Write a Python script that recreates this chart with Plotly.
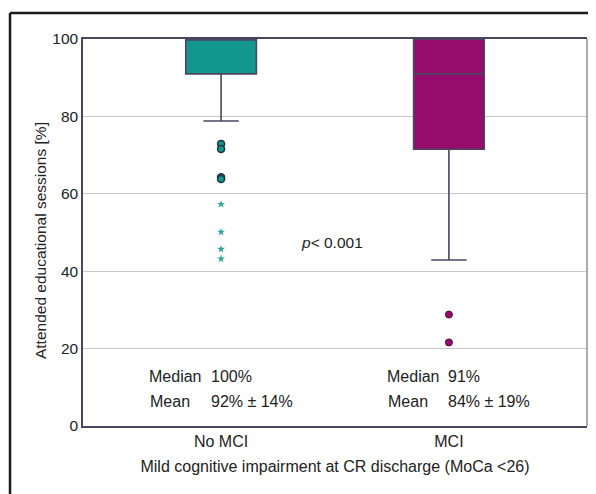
import plotly.graph_objects as go

# ---- data ----
categories = ["No MCI", "MCI"]
cat_pos = [0, 1]
q1_vals = [91.0, 71.5]
median_vals = [100.0, 91.0]
q3_vals = [100.0, 100.0]
lower_whisker = [78.8, 42.9]
upper_whisker = [100.0, 100.0]
nomci_circle_outliers = [72.9, 71.6, 64.3, 63.8]
nomci_star_outliers = [57.3, 50.1, 45.7, 43.2]
mci_circle_outliers = [28.8, 21.6]
median_labels = ["100%", "91%"]
mean_labels = ["92% ± 14%", "84% ± 19%"]
y_ticks = [0, 20, 40, 60, 80, 100]

teal = "#11978e"
purple = "#950c6d"
line_col = "#4a4560"
FONT = "Liberation Sans, Arial, Helvetica, sans-serif"

fig = go.Figure()

for i, col in enumerate([teal, purple]):
    fig.add_trace(go.Box(
        x=[cat_pos[i]], q1=[q1_vals[i]], median=[median_vals[i]], q3=[q3_vals[i]],
        lowerfence=[lower_whisker[i]], upperfence=[upper_whisker[i]],
        fillcolor=col, line=dict(color=line_col, width=1.6),
        width=0.31, whiskerwidth=0.5, boxpoints=False, showlegend=False,
        hoverinfo="skip",
    ))

fig.add_trace(go.Scatter(
    x=[cat_pos[0]] * len(nomci_circle_outliers), y=nomci_circle_outliers, mode="markers",
    marker=dict(symbol="circle", size=7, color=teal, line=dict(color="#1d3442", width=1.5)),
    showlegend=False))
fig.add_trace(go.Scatter(
    x=[cat_pos[0]] * len(nomci_star_outliers), y=nomci_star_outliers, mode="markers",
    marker=dict(symbol="star", size=6, color="#2aa9a0", line=dict(width=0)),
    showlegend=False))
fig.add_trace(go.Scatter(
    x=[cat_pos[1]] * len(mci_circle_outliers), y=mci_circle_outliers, mode="markers",
    marker=dict(symbol="circle", size=7, color=purple, line=dict(color="#4a0a3a", width=1)),
    showlegend=False))

annotations = []
label_x = [(0.127, 0.250), (0.599, 0.720)]
for i in range(2):
    lx, vx = label_x[i]
    annotations += [
        dict(x=lx, y=0.127, text="Median"),
        dict(x=vx, y=0.127, text=median_labels[i]),
        dict(x=lx + 0.002, y=0.064, text="Mean"),
        dict(x=vx, y=0.064, text=mean_labels[i]),
    ]
for a in annotations:
    a.update(xref="paper", yref="paper", showarrow=False, xanchor="left", yanchor="middle",
             font=dict(size=16))
annotations.append(dict(x=0.494, y=0.475, xref="paper", yref="paper", xanchor="center",
                        yanchor="middle", text="<i>p</i>< 0.001", showarrow=False,
                        font=dict(size=15.5)))
# y axis title (slightly below plot centre, as in the reference)
annotations.append(dict(x=-0.0853, y=0.478, xref="paper", yref="paper", xanchor="center",
                        yanchor="middle", textangle=-90, showarrow=False,
                        text="Attended educational sessions [%]", font=dict(size=15.5)))

shapes = [
    # outer frame (top & left)
    dict(type="line", xref="paper", yref="paper", x0=-0.1448, x1=1.02, y0=1.067, y1=1.067,
         line=dict(color="#1a1a1a", width=2.5)),
    dict(type="line", xref="paper", yref="paper", x0=-0.1448, x1=-0.1448, y0=1.067, y1=-0.2,
         line=dict(color="#1a1a1a", width=2.5)),
    # right border of plot (lighter)
    dict(type="line", xref="paper", yref="paper", x0=1, x1=1, y0=0, y1=1,
         line=dict(color="#8f8c9e", width=1.5)),
]

fig.update_layout(
    width=588, height=486,
    margin=dict(l=75, r=9, t=31, b=68),
    paper_bgcolor="white", plot_bgcolor="white",
    font=dict(family=FONT, size=15.5, color="#222222"),
    annotations=annotations, shapes=shapes,
    xaxis=dict(
        range=[-0.606, 1.606], tickvals=cat_pos, ticktext=categories,
        showline=True, linecolor=line_col, linewidth=1.5, mirror=True,
        showgrid=False, zeroline=False, ticks="",
        tickfont=dict(size=16, color="#222222"),
        title=dict(text="Mild cognitive impairment at CR discharge (MoCa <26)",
                   font=dict(size=16, color="#222222"), standoff=12),
    ),
    yaxis=dict(
        range=[0, 100], tickvals=y_ticks,
        showline=True, linecolor=line_col, linewidth=1.5,
        showgrid=True, gridcolor="#c9c8cc", gridwidth=1, zeroline=False, ticks="",
        tickfont=dict(size=15.5, color="#222222"),
    ),
)

fig.write_html("out.html")
